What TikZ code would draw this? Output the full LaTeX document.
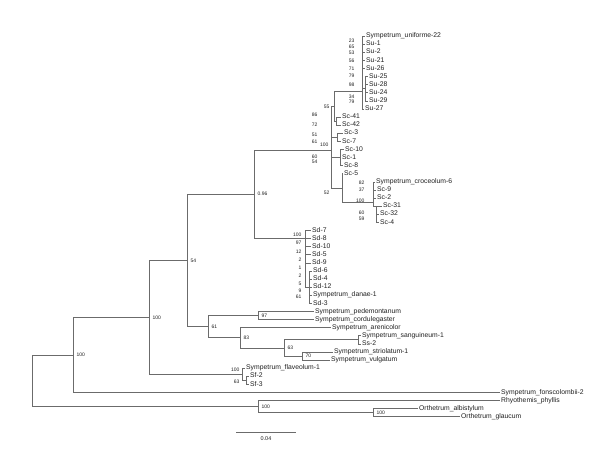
\documentclass[tikz,border=0pt]{standalone}
\usepackage{fontspec}
\setmainfont{Liberation Sans}
\usetikzlibrary{positioning}
\definecolor{branch}{gray}{0.42}
\definecolor{labeltext}{gray}{0.12}
\tikzset{
  br/.style={draw=branch, line width=0.6pt},
  taxon/.style={anchor=west, inner sep=1pt, text=labeltext,
    font=\fontsize{6.8}{7}\selectfont, text height=4.9pt, text depth=1.4pt},
  boot/.style={inner sep=0.4pt, text=labeltext, font=\fontsize{5}{5}\selectfont},
}
\begin{document}
\begin{tikzpicture}[x=1pt, y=-1pt]
\useasboundingbox (0,0) rectangle (608,448);

% internal nodes
\coordinate (R) at (32,380.7);
\coordinate (A) at (73,354.85);
\coordinate (B) at (149,317.3);
\coordinate (C) at (187,260.4);
\coordinate (J) at (254,194.25);
\coordinate (K) at (331,150);
\coordinate (L) at (334,106);
\coordinate (S) at (362,91);
\coordinate (V) at (365,88.65);
\coordinate (M) at (336,121);
\coordinate (N) at (337,137.25);
\coordinate (P) at (340,157.5);
\coordinate (Q) at (342,187.9);
\coordinate (W) at (373,202);
\coordinate (X) at (376,206.1);
\coordinate (T) at (305,238.5);
\coordinate (U) at (309,287.1);
\coordinate (D) at (208,326.6);
\coordinate (F) at (258,315.45);
\coordinate (E) at (240,337.7);
\coordinate (G) at (284,347.85);
\coordinate (H) at (358,339.75);
\coordinate (I) at (302,355.95);
\coordinate (Sf) at (242,374.2);
\coordinate (Sf23) at (246,380.25);
\coordinate (O) at (258,406.6);
\coordinate (Or) at (373,412.65);

% taxa
\node[taxon] (su22) at (365,36.0) {Sympetrum\_uniforme-22};
\node[taxon] (su1) at (365,44.1) {Su-1};
\node[taxon] (su2) at (365,52.2) {Su-2};
\node[taxon] (su21) at (365,60.3) {Su-21};
\node[taxon] (su26) at (365,68.4) {Su-26};
\node[taxon] (su25) at (368,76.5) {Su-25};
\node[taxon] (su28) at (368,84.6) {Su-28};
\node[taxon] (su24) at (368,92.7) {Su-24};
\node[taxon] (su29) at (368,100.8) {Su-29};
\node[taxon] (su27) at (364,108.9) {Su-27};
\node[taxon] (sc41) at (341,117.0) {Sc-41};
\node[taxon] (sc42) at (341,125.1) {Sc-42};
\node[taxon] (sc3) at (343,133.2) {Sc-3};
\node[taxon] (sc7) at (341,141.3) {Sc-7};
\node[taxon] (sc10) at (344,149.4) {Sc-10};
\node[taxon] (sc1) at (341,157.5) {Sc-1};
\node[taxon] (sc8) at (343,165.6) {Sc-8};
\node[taxon] (sc5) at (343,173.7) {Sc-5};
\node[taxon] (scro) at (375,181.8) {Sympetrum\_croceolum-6};
\node[taxon] (sc9) at (376,189.9) {Sc-9};
\node[taxon] (sc2) at (376,198.0) {Sc-2};
\node[taxon] (sc31) at (382,206.1) {Sc-31};
\node[taxon] (sc32) at (379,214.2) {Sc-32};
\node[taxon] (sc4) at (379,222.3) {Sc-4};
\node[taxon] (sd7) at (311,230.4) {Sd-7};
\node[taxon] (sd8) at (311,238.5) {Sd-8};
\node[taxon] (sd10) at (311,246.6) {Sd-10};
\node[taxon] (sd5) at (311,254.7) {Sd-5};
\node[taxon] (sd9) at (311,262.8) {Sd-9};
\node[taxon] (sd6) at (312,270.9) {Sd-6};
\node[taxon] (sd4) at (312,279.0) {Sd-4};
\node[taxon] (sd12) at (312,287.1) {Sd-12};
\node[taxon] (sdan) at (312,295.2) {Sympetrum\_danae-1};
\node[taxon] (sd3) at (312,303.3) {Sd-3};
\node[taxon] (sped) at (314,311.4) {Sympetrum\_pedemontanum};
\node[taxon] (scor) at (314,319.5) {Sympetrum\_cordulegaster};
\node[taxon] (sare) at (331,327.6) {Sympetrum\_arenicolor};
\node[taxon] (ssan) at (361,335.7) {Sympetrum\_sanguineum-1};
\node[taxon] (ss2) at (361,343.8) {Ss-2};
\node[taxon] (sstr) at (333,351.9) {Sympetrum\_striolatum-1};
\node[taxon] (svul) at (330,360.0) {Sympetrum\_vulgatum};
\node[taxon] (sfla) at (245,368.1) {Sympetrum\_flaveolum-1};
\node[taxon] (sf2) at (249,376.2) {Sf-2};
\node[taxon] (sf3) at (249,384.3) {Sf-3};
\node[taxon] (sfon) at (500,392.4) {Sympetrum\_fonscolombii-2};
\node[taxon] (rphy) at (500,400.5) {Rhyothemis\_phyllis};
\node[taxon] (oalb) at (418,408.6) {Orthetrum\_albistylum};
\node[taxon] (ogla) at (460,416.7) {Orthetrum\_glaucum};

% branches
\draw[br] (R) |- (A);
\draw[br] (R) |- (O);
\draw[br] (A) |- (B);
\draw[br] (A) |- (sfon.west);
\draw[br] (B) |- (C);
\draw[br] (B) |- (Sf);
\draw[br] (C) |- (J);
\draw[br] (C) |- (D);
\draw[br] (J) |- (K);
\draw[br] (J) |- (T);
\foreach \c in {L,N,P,Q} \draw[br] (K) |- (\c);
\draw[br] (L) |- (S);
\draw[br] (L) |- (M);
\draw[br] (S) |- (V);
\foreach \t in {su22,su1,su2,su21,su26,su27} \draw[br] (S) |- (\t.west);
\foreach \t in {su25,su28,su24,su29} \draw[br] (V) |- (\t.west);
\foreach \t in {sc41,sc42} \draw[br] (M) |- (\t.west);
\foreach \t in {sc3,sc7} \draw[br] (N) |- (\t.west);
\foreach \t in {sc10,sc1,sc8} \draw[br] (P) |- (\t.west);
\draw[br] (Q) |- (sc5.west);
\draw[br] (Q) |- (W);
\draw[br] (W) |- (X);
\foreach \t in {scro,sc9,sc2} \draw[br] (W) |- (\t.west);
\foreach \t in {sc31,sc32,sc4} \draw[br] (X) |- (\t.west);
\draw[br] (T) |- (U);
\foreach \t in {sd7,sd8,sd10,sd5,sd9} \draw[br] (T) |- (\t.west);
\foreach \t in {sd6,sd4,sd12,sdan,sd3} \draw[br] (U) |- (\t.west);
\draw[br] (D) |- (F);
\draw[br] (D) |- (E);
\draw[br] (F) |- (sped.west);
\draw[br] (F) |- (scor.west);
\draw[br] (E) |- (sare.west);
\draw[br] (E) |- (G);
\draw[br] (G) |- (H);
\draw[br] (G) |- (I);
\draw[br] (H) |- (ssan.west);
\draw[br] (H) |- (ss2.west);
\draw[br] (I) |- (sstr.west);
\draw[br] (I) |- (svul.west);
\draw[br] (Sf) |- (sfla.west);
\draw[br] (Sf) |- (Sf23);
\draw[br] (Sf23) |- (sf2.west);
\draw[br] (Sf23) |- (sf3.west);
\draw[br] (O) |- (rphy.west);
\draw[br] (O) |- (Or);
\draw[br] (Or) |- (oalb.west);
\draw[br] (Or) |- (ogla.west);

% support values
\node[boot, right=3pt of A] (bA) {100};
\node[boot, right=3pt of B] (bB) {100};
\node[boot, right=3pt of C] (bC) {54};
\node[boot, right=3pt of J] (bJ) {0.96};
\node[boot, right=3pt of D] (bD) {61};
\node[boot, right=3pt of F] (bF) {97};
\node[boot, right=3pt of E] (bE) {83};
\node[boot, right=3pt of G] (bG) {63};
\node[boot, right=3pt of I] (bI) {70};
\node[boot, right=3pt of O] (bO) {100};
\node[boot, right=3pt of Or] (bOr) {100};
\node[boot, anchor=east] (bSf) at (240,370) {100};
\node[boot, anchor=east] (bSf23) at (240,382) {63};
\node[boot, anchor=east] (bK) at (329,145) {100};
\node[boot, anchor=east] (bL) at (330,107) {55};
\node[boot, anchor=east] (bQ) at (330,193) {52};
\foreach \v/\y [count=\k] in {23/41,65/47,53/53,56/61,71/69,79/76,98/85,34/97,79/102}
  \node[boot, anchor=east] (bsu\k) at (355,\y) {\v};
\foreach \v/\y [count=\k] in {86/115,72/125,51/135,61/142,60/157,54/162}
  \node[boot, anchor=east] (bsc\k) at (318,\y) {\v};
\foreach \v/\y [count=\k] in {82/183,37/190,100/201,60/213,59/219}
  \node[boot, anchor=east] (bcr\k) at (365,\y) {\v};
\foreach \v/\y [count=\k] in {100/235,97/243,12/252,2/260,1/268,2/276,5/284,9/291,61/297}
  \node[boot, anchor=east] (bsd\k) at (302,\y) {\v};

% scale bar
\coordinate (sbl) at (236,432);
\coordinate (sbr) at (296,432);
\draw[br] (sbl) -- (sbr);
\node[boot, font=\fontsize{5.5}{6}\selectfont] (sblab) at (266,439) {0.04};
\end{tikzpicture}
\end{document}
